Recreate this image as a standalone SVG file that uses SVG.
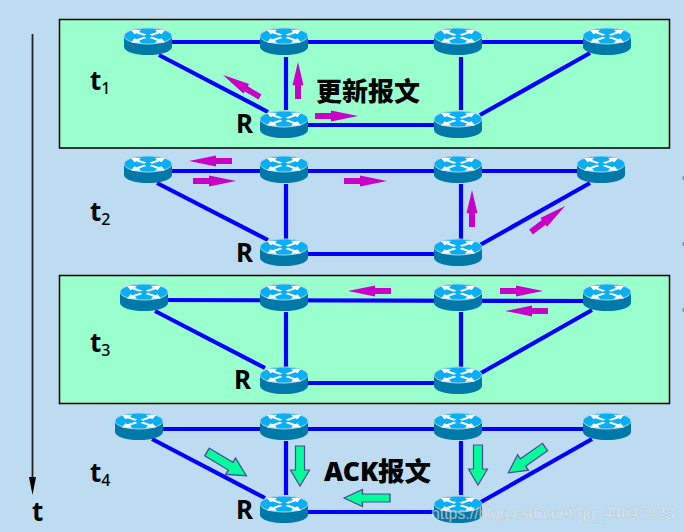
<svg xmlns="http://www.w3.org/2000/svg" width="684" height="532" viewBox="0 0 684 532">
<style>
.bg{fill:#bddcf2}
.panel{fill:#99ffcc;stroke:#000;stroke-width:1.5}
.link{stroke:#0000ff;stroke-width:4.200;fill:none}
.lb{font-family:"Noto Sans","Liberation Sans",sans-serif;font-weight:700;font-size:26px;fill:#000}
.sub{font-size:16px;font-weight:500}
.cjk{font-family:"Noto Sans CJK SC","Noto Sans",sans-serif;font-weight:900;font-size:26px;fill:#000}
.ack{font-family:"Noto Sans","Noto Sans CJK SC",sans-serif;font-weight:900;font-size:26.500px;fill:#000}
.wm{font-family:"Liberation Sans",sans-serif;font-size:16px;fill:#fff;fill-opacity:.62;stroke:#777;stroke-opacity:.35;stroke-width:.5}
.up{fill:#c800c8}
.ak{fill:#00ff99;stroke:#4a4a9a;stroke-width:1.2}
.rw{fill:#fff}
</style>
<defs>
<path id="rm" class="rw" d="M-18,-6.500L-8,-6.800L-10,-4.600L-2.500,-2L-5,-.8L-12.500,-3.200L-14.500,-2.200Z"/>
<g id="router">
<path d="M-24,0V11A24,8 0 0 0 24,11V0Z" fill="#0078a8"/>
<ellipse cx="0" cy="0" rx="24" ry="8" fill="#0aaef2" stroke="#a8d4e6" stroke-width="1"/>
<use href="#rm" transform="translate(1,.5)"/>
<use href="#rm" transform="translate(-1,.5) scale(-1,1)"/>
<use href="#rm" transform="translate(1,0) scale(1,-1)"/>
<use href="#rm" transform="translate(-1,0) scale(-1,-1)"/>
</g>
<path id="am" class="up" d="M0,-3H16V-5.500L43,0L16,5.500V3H0Z"/>
<path id="ag" class="ak" d="M0,-4.500H24V-9.500L40,0L24,9.500V4.500H0Z"/>
</defs>
<rect class="bg" width="684" height="532"/>
<rect class="panel" x="59.500" y="19.500" width="610" height="128.500"/>
<rect class="panel" x="59.500" y="275.500" width="610" height="128"/>
<g id="connectors" class="link">
<path d="M148,42H607M286,57V110M461,57V110M159,55L268,112M590,53L480,115M284,125H458"/>
<path d="M148,171H601M286,184V240M461,184V240M157,183L268,240M590,183L480,245M284,254H458"/>
<path d="M144,300L607,301M286,312V367M461,312V367M155,311L265,368M592,310L481,373M284,383H458"/>
<path d="M139,429H607M286,441V495M461,441V495M152,439L265,498M592,439L481,502M284,512H458"/>
</g>
<g id="time-axis">
<line x1="32.500" y1="34" x2="32.500" y2="480" stroke="#222" stroke-width="1.800"/>
<path d="M29,477H36L32.500,495Z" fill="#000"/>
<text class="lb" x="32" y="521">t</text>
</g>
<g id="t1"><use href="#router" x="148" y="36"/><use href="#router" x="284" y="36"/><use href="#router" x="458" y="36"/><use href="#router" x="607" y="36"/><use href="#router" x="284" y="119"/><use href="#router" x="458" y="119"/></g>
<g id="t2"><use href="#router" x="148" y="164"/><use href="#router" x="284" y="164"/><use href="#router" x="458" y="164"/><use href="#router" x="601" y="164"/><use href="#router" x="284" y="247"/><use href="#router" x="458" y="247"/></g>
<g id="t3"><use href="#router" x="144" y="292"/><use href="#router" x="284" y="292"/><use href="#router" x="458" y="292"/><use href="#router" x="607" y="292"/><use href="#router" x="284" y="375"/><use href="#router" x="458" y="375"/></g>
<g id="t4"><use href="#router" x="139" y="421"/><use href="#router" x="284" y="421"/><use href="#router" x="458" y="421"/><use href="#router" x="607" y="421"/><use href="#router" x="284" y="504"/><use href="#router" x="458" y="504"/></g>
<g id="update-arrows">
<use href="#am" transform="translate(298,99) rotate(-90) scale(.86,1)"/>
<use href="#am" transform="translate(260,97) rotate(-149.300)"/>
<use href="#am" transform="translate(315,116)"/>
<use href="#am" transform="translate(232,161) rotate(180)"/>
<use href="#am" transform="translate(193,181)"/>
<use href="#am" transform="translate(344,181)"/>
<use href="#am" transform="translate(472,227) rotate(-90) scale(.86,1)"/>
<use href="#am" transform="translate(531,232) rotate(-37.400)"/>
<use href="#am" transform="translate(391,291) rotate(180)"/>
<use href="#am" transform="translate(500,291)"/>
<use href="#am" transform="translate(548,311) rotate(180)"/>
</g>
<g id="ack-arrows">
<use href="#ag" transform="translate(207,452) rotate(31) scale(1.150,1)"/>
<use href="#ag" transform="translate(300,446) rotate(90)"/>
<use href="#ag" transform="translate(478,445) rotate(90)"/>
<use href="#ag" transform="translate(545,447) rotate(144.900) scale(1.120,1)"/>
<use href="#ag" transform="translate(390,498) rotate(180) scale(1.150,.9)"/>
</g>
<g id="labels">
<text class="lb" x="90" y="90">t<tspan class="sub" dy="4">1</tspan></text>
<text class="lb" x="90" y="221">t<tspan class="sub" dy="4">2</tspan></text>
<text class="lb" x="90" y="352">t<tspan class="sub" dy="4">3</tspan></text>
<text class="lb" x="90" y="482">t<tspan class="sub" dy="4">4</tspan></text>
<text class="lb" x="236" y="133">R</text>
<text class="lb" x="236" y="262">R</text>
<text class="lb" x="234" y="389">R</text>
<text class="lb" x="236" y="519">R</text>
<text class="cjk" x="316" y="101">更新报文</text>
<text class="ack" x="324" y="481">ACK报文</text>
</g>
<g id="edge-marks" fill="#999"><circle cx="684" cy="178" r="2"/><circle cx="684" cy="244" r="2"/><circle cx="684" cy="310" r="2"/></g>
<text class="wm" x="431" y="519" textLength="243" lengthAdjust="spacingAndGlyphs">https://blog.csdn.net/qq_44647223</text>
</svg>
